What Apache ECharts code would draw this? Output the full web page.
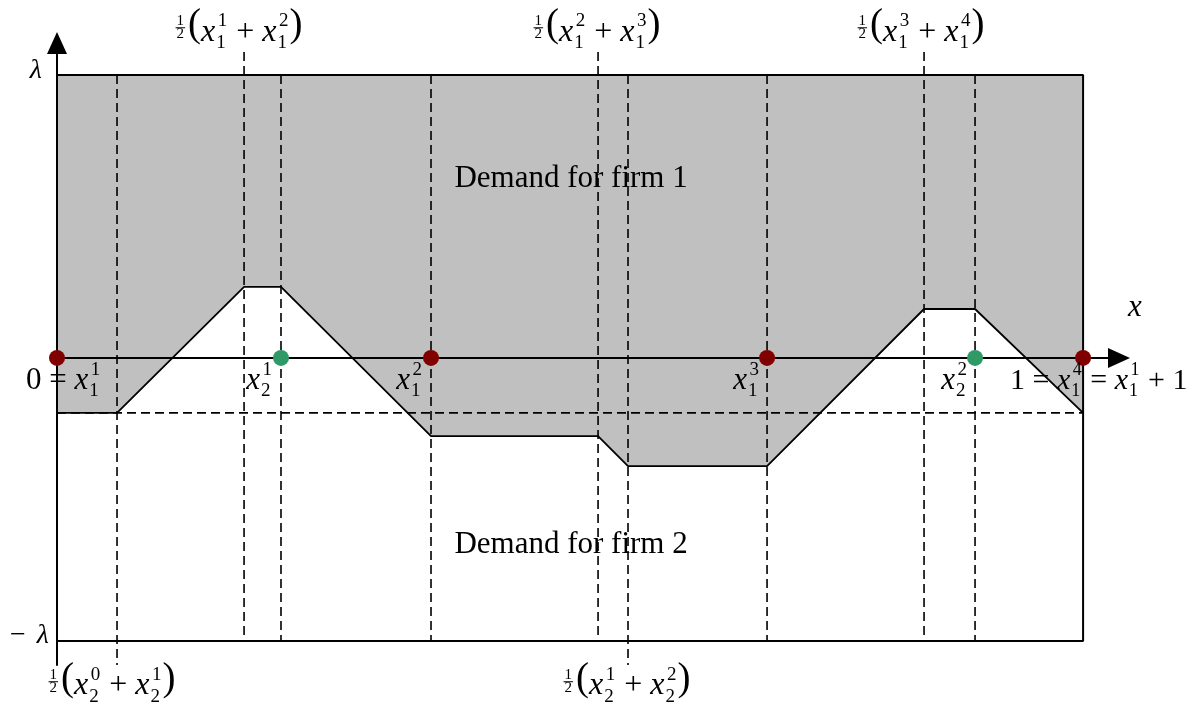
<!DOCTYPE html>
<html><head><meta charset="utf-8">
<script src="https://cdn.jsdelivr.net/npm/echarts@6/dist/echarts.min.js"></script>
<style>html,body{margin:0;padding:0;background:#fff}#c{width:1196px;height:711px}</style>
</head><body><div id="c"></div>
<script>
// ---------------- data ----------------
// lambda normalised to 1
const boundaryX = [0, 0.0585, 0.1823, 0.2183, 0.3645, 0.5273, 0.5565, 0.6920, 0.8450, 0.8947, 1];
const boundaryY = [-0.194, -0.194, 0.251, 0.251, -0.276, -0.276, -0.382, -0.382, 0.173, 0.173, -0.194];
const dashedLevel = -0.194;
const guideX = [0.0585, 0.1823, 0.2183, 0.3645, 0.5273, 0.5565, 0.6920, 0.8450, 0.8947];
const guideTop = [1, 1.081, 1, 1, 1.081, 1, 1, 1.081, 1];
const guideBottom = [-1.085, -1, -1, -1, -1, -1.085, -1, -1, -1];
const firm1PointsX = [0, 0.3645, 0.6920, 1];
const firm2PointsX = [0.2183, 0.8947];
const frameX = [0, 1, 1, 0];
const frameY = [1, 1, -1, -1];

// label texts (math tokens)
const labelTokens = [
  [{i:'λ'}],
  [{n:'−'},{g:11},{i:'λ'}],
  [{n:'0'},{op:'='},{i:'x'},{ss:['1','1']}],
  [{i:'x'},{ss:['1','2']}],
  [{i:'x'},{ss:['2','1']}],
  [{i:'x'},{ss:['3','1']}],
  [{i:'x'},{ss:['2','2']}],
  [{n:'1'},{op:'='},{i:'x'},{ss:['4','1']},{op:'='},{i:'x'},{ss:['1','1']},{op:'+'},{n:'1'}],
  [{i:'x'}],
  [{fr:['1','2']},{p:'('},{i:'x'},{ss:['1','1']},{op:'+'},{i:'x'},{ss:['2','1']},{p:')'}],
  [{fr:['1','2']},{p:'('},{i:'x'},{ss:['2','1']},{op:'+'},{i:'x'},{ss:['3','1']},{p:')'}],
  [{fr:['1','2']},{p:'('},{i:'x'},{ss:['3','1']},{op:'+'},{i:'x'},{ss:['4','1']},{p:')'}],
  [{fr:['1','2']},{p:'('},{i:'x'},{ss:['0','2']},{op:'+'},{i:'x'},{ss:['1','2']},{p:')'}],
  [{fr:['1','2']},{p:'('},{i:'x'},{ss:['1','2']},{op:'+'},{i:'x'},{ss:['2','2']},{p:')'}],
  [{n:'Demand for firm 1'}],
  [{n:'Demand for firm 2'}]
];

// ---------------- layout (positions / sizes) ----------------
const labelLayout = [
  {at:[0, 1], align:'right', dx:-14, dy:5, size:28},
  {at:[0, -1], align:'right', dx:-7, dy:4, size:28},
  {at:[0, 0], align:'left', dx:-31, dy:33, size:31},
  {at:[0.2183, 0], align:'right', dx:-8, dy:33, size:31},
  {at:[0.3645, 0], align:'right', dx:-8, dy:33, size:31},
  {at:[0.6920, 0], align:'right', dx:-7, dy:33, size:31},
  {at:[0.8947, 0], align:'right', dx:-7, dy:33, size:31},
  {at:[1, 0], align:'left', dx:-73, dy:33, size:30},
  {at:[1, 0], align:'left', dx:45, dy:-40, size:31},
  {at:[0.1823, 1], align:'center', dx:-5, dy:-32, size:32},
  {at:[0.5273, 1], align:'center', dx:-1, dy:-32, size:32},
  {at:[0.8450, 1], align:'center', dx:-3, dy:-32, size:32},
  {at:[0.0585, -1], align:'center', dx:-5, dy:56, size:32},
  {at:[0.5565, -1], align:'center', dx:-1, dy:56, size:32},
  {at:[0.5, 1], align:'center', dx:1, dy:114, size:31},
  {at:[0.5, -1], align:'center', dx:1, dy:-86, size:31}
];

const FAM = '"Liberation Serif","Times New Roman",serif';
const mctx = document.createElement('canvas').getContext('2d');
function tw(str, font){ mctx.font = font; return mctx.measureText(str).width; }
function F(size, it){ return (it ? 'italic ' : '') + size + 'px ' + FAM; }

function layoutMath(tokens, S){
  const pieces = [], lines = [];
  let cx = 0;
  tokens.forEach(t => {
    if (t.n !== undefined || t.i !== undefined) {
      const it = t.i !== undefined; const s = it ? t.i : t.n;
      const f = F(S, it);
      pieces.push({text:s, font:f, size:S, x:cx, b:0});
      cx += tw(s, f) + (it ? 1 : 0);
    } else if (t.g !== undefined) {
      cx += t.g;
    } else if (t.op) {
      cx += S * 0.25;
      const f = F(S, false);
      pieces.push({text:t.op, font:f, size:S, x:cx, b:0});
      cx += tw(t.op, f) + S * 0.25;
    } else if (t.ss) {
      const s = Math.round(S * 0.6); const f = F(s, false);
      pieces.push({text:t.ss[0], font:f, size:s, x:cx + 1.5, b:-0.47 * S});
      pieces.push({text:t.ss[1], font:f, size:s, x:cx, b:0.2 * S});
      cx += Math.max(tw(t.ss[0], f) + 1.5, tw(t.ss[1], f)) + 1;
    } else if (t.fr) {
      const s = Math.round(S * 0.48); const f = F(s, false);
      const wn = tw(t.fr[0], f), wd = tw(t.fr[1], f); const W = Math.max(wn, wd) + 2;
      pieces.push({text:t.fr[0], font:f, size:s, x:cx + (W - wn) / 2, b:-0.52 * S});
      pieces.push({text:t.fr[1], font:f, size:s, x:cx + (W - wd) / 2, b:-0.11 * S});
      lines.push({x1:cx, x2:cx + W, y:-0.475 * S});
      cx += W + 3;
    } else if (t.p) {
      const s = Math.round(S * 1.23); const f = F(s, false);
      pieces.push({text:t.p, font:f, size:s, x:cx, b:-0.13 * S});
      cx += tw(t.p, f);
    }
  });
  return {pieces, lines, width:cx};
}

const chart = echarts.init(document.getElementById('c'));
const axisCommon = {
  type:'value',
  axisLine:{show:true, onZero:true, symbol:['none','triangle'], symbolSize:[20,22], lineStyle:{color:'#000', width:2}},
  axisTick:{show:false}, axisLabel:{show:false}, splitLine:{show:false}, z:10
};
const option = {
  animation:false,
  backgroundColor:'#fff',
  grid:{left:57, top:43, width:1062, height:622, containLabel:false},
  xAxis:Object.assign({}, axisCommon, {min:0, max:1.035}),
  yAxis:Object.assign({}, axisCommon, {min:-1.085, max:1.113}),
  series:[
    { // firm 1 demand region
      type:'custom', clip:false, z:1,
      data:[[0, 0]],
      renderItem:function(params, api){
        const pts = boundaryX.map((x, i) => api.coord([x, boundaryY[i]]));
        pts.push(api.coord([1, 1]));
        pts.push(api.coord([0, 1]));
        return {type:'polygon', shape:{points:pts}, style:{fill:'#c0c0c0', stroke:null}};
      }
    },
    { // vertical guides
      type:'custom', clip:false, z:3,
      data:guideX.map((x, i) => [x, guideTop[i], guideBottom[i]]),
      encode:{x:0, y:1},
      renderItem:function(params, api){
        const p1 = api.coord([api.value(0), api.value(1)]);
        const p2 = api.coord([api.value(0), api.value(2)]);
        return {type:'line', shape:{x1:p1[0], y1:p1[1], x2:p2[0], y2:p2[1]},
          style:{stroke:'#000', lineWidth:1.6, lineDash:[9,5]}};
      }
    },
    { // horizontal dashed level
      type:'line', z:3, symbol:'none', silent:true,
      data:[[0, dashedLevel], [1, dashedLevel]],
      lineStyle:{color:'#000', width:1.6, type:[9,5]}
    },
    { // boundary
      type:'line', z:4, symbol:'none', silent:true,
      data:boundaryX.map((x, i) => [x, boundaryY[i]]),
      lineStyle:{color:'#000', width:1.8}
    },
    { // frame
      type:'line', z:4, symbol:'none', silent:true,
      data:frameX.map((x, i) => [x, frameY[i]]),
      lineStyle:{color:'#000', width:2}
    },
    {
      type:'scatter', z:12, symbol:'circle', symbolSize:16,
      data:firm1PointsX.map(x => [x, 0]),
      itemStyle:{color:'#800000', opacity:1}
    },
    {
      type:'scatter', z:12, symbol:'circle', symbolSize:16,
      data:firm2PointsX.map(x => [x, 0]),
      itemStyle:{color:'#2f9a66', opacity:1}
    },
    { // labels
      type:'custom', clip:false, z:13, silent:true,
      data:labelTokens.map((t, i) => [i]),
      renderItem:function(params, api){
        const L = labelLayout[params.dataIndex];
        const pt = api.coord(L.at);
        const m = layoutMath(labelTokens[params.dataIndex], L.size);
        const left = pt[0] + L.dx - (L.align === 'center' ? m.width / 2 : (L.align === 'right' ? m.width : 0));
        const base = pt[1] + L.dy;
        const children = m.pieces.map(p => ({
          type:'text', x:left + p.x, y:base + p.b - 0.34 * p.size,
          style:{text:p.text, font:p.font, fill:'#000', align:'left', verticalAlign:'middle'}
        }));
        m.lines.forEach(l => children.push({type:'line',
          shape:{x1:left + l.x1, y1:base + l.y, x2:left + l.x2, y2:base + l.y},
          style:{stroke:'#000', lineWidth:1}}));
        return {type:'group', children:children};
      }
    }
  ]
};
chart.setOption(option);
</script>
</body></html>
